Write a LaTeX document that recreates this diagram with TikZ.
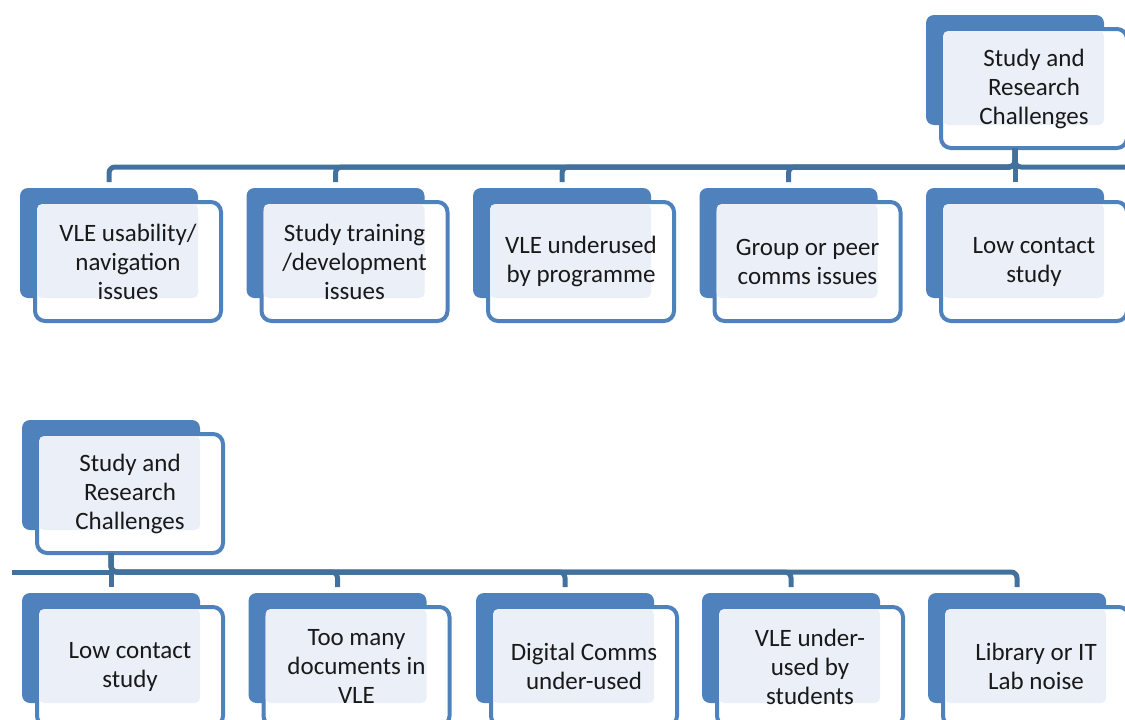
\documentclass[tikz,border=0pt]{standalone}
\usepackage{fontspec}
\setmainfont{Carlito}
\definecolor{boxblue}{HTML}{4F81BD}
\definecolor{lineblue}{HTML}{41719C}
\definecolor{lightfill}{HTML}{EBF0F8}
\newcommand\cbox[4]{%
  \node[back] (#1b) at (#2,#3) {};
  \node[front] (#1) at (#2+15,#3+14) {};
  \fill[lightfill, rounded corners=5pt] (#2+17,#3+16) rectangle (#2+178,#3+110);
  \node[lbl] (#1t) at (#1.center) {#4};
}
\begin{document}
\begin{tikzpicture}[x=1pt,y=-1pt,
  back/.style={fill=boxblue, rounded corners=8pt, minimum width=178pt, minimum height=110pt, anchor=north west, inner sep=0pt, outer sep=0pt},
  front/.style={fill=white, draw=boxblue, line width=4pt, rounded corners=10pt, minimum width=186pt, minimum height=119pt, anchor=north west, inner sep=0pt, outer sep=0pt},
  lbl/.style={align=center, font=\fontsize{25}{29}\selectfont, text=black!90, inner sep=0pt},
  conn/.style={draw=lineblue, line width=5pt, rounded corners=6pt}
]
\useasboundingbox (0,0) rectangle (1125,720);
\clip (0,0) rectangle (1125,720);
\coordinate (ty) at (0,167);
\coordinate (tr) at (1135,167);
\coordinate (byy) at (0,572);
\coordinate (bl) at (12,572);

% top group
\cbox{r1}{926}{15}{Study and\\Research\\Challenges}
\cbox{a1}{20}{188}{VLE usability/\\navigation\\issues}
\cbox{a2}{246.5}{188}{Study training\\/development\\issues}
\cbox{a3}{473}{188}{VLE underused\\by programme}
\cbox{a4}{699.5}{188}{Group or peer\\comms issues}
\cbox{a5}{926}{188}{Low contact\\study}

\draw[conn] (r1b |- r1.south) -- (r1b |- ty) -- (tr);
\foreach \c in {a1,a2,a3,a4,a5}{
  \draw[conn, shorten >=6pt] (r1b |- r1.south) -- (r1b |- ty) -| (\c b.north);
}

% bottom group
\cbox{r2}{22}{420}{Study and\\Research\\Challenges}
\cbox{b1}{22}{593}{Low contact\\study}
\cbox{b2}{248.5}{593}{Too many\\documents in\\VLE}
\cbox{b3}{476}{593}{Digital Comms\\under-used}
\cbox{b4}{702}{593}{VLE under-\\used by\\students}
\cbox{b5}{928}{593}{Library or IT\\Lab noise}

\draw[conn] (bl) -- (r2b |- byy);
\foreach \c in {b1,b2,b3,b4,b5}{
  \draw[conn, shorten >=6pt] (r2b |- r2.south) -- (r2b |- byy) -| (\c b.north);
}
\end{tikzpicture}
\end{document}
